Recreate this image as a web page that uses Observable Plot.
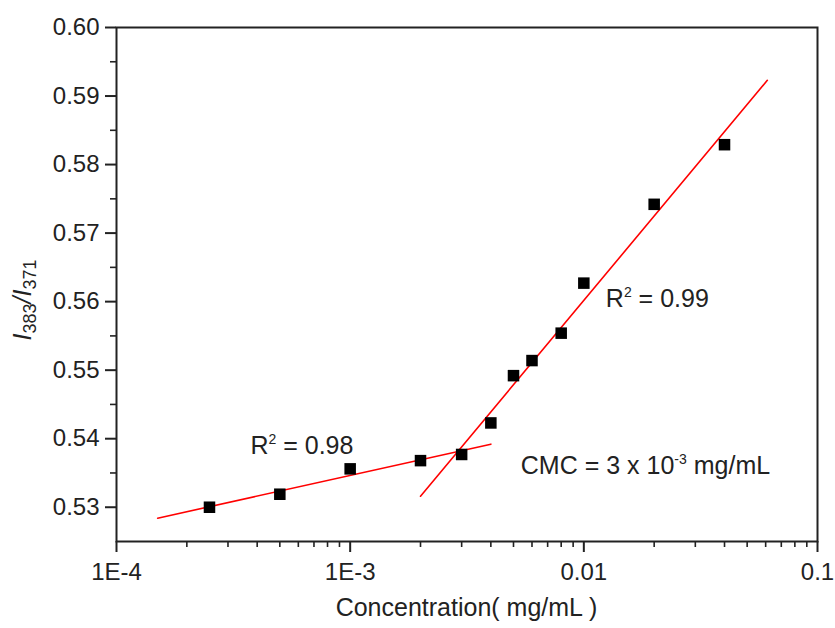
<!DOCTYPE html>
<html>
<head>
<meta charset="utf-8">
<script src="https://cdn.jsdelivr.net/npm/d3@7"></script>
<script src="https://cdn.jsdelivr.net/npm/@observablehq/plot@0.6"></script>
<style>
  body { margin: 0; background: #fff; }
  #chart svg { display: block; }
</style>
</head>
<body>
<div id="chart"></div>
<script>
// Pyrene fluorescence ratio I383/I371 versus surfactant concentration
const concentration = [2.5e-4, 5e-4, 1e-3, 2e-3, 3e-3, 4e-3, 5e-3, 6e-3, 8e-3, 0.01, 0.02, 0.04];
const ratio = [0.5300, 0.5319, 0.5356, 0.5368, 0.5377, 0.5423, 0.5492, 0.5514, 0.5554, 0.5627, 0.5742, 0.5829];

// Linear fits (in log concentration) below and above the CMC
const fitLowX = [1.5e-4, 4e-3];
const fitLowY = [0.5284, 0.5392];
const fitHighX = [2e-3, 0.061];
const fitHighY = [0.5316, 0.5923];

// Axis ticks
const xTicks = [1e-4, 1e-3, 1e-2, 1e-1];
const xTickLabels = ["1E-4", "1E-3", "0.01", "0.1"];
const xMinorTicks = [1e-4, 1e-3, 1e-2].flatMap(d => [2, 3, 4, 5, 6, 7, 8, 9].map(k => k * d));
const yTicks = [0.53, 0.54, 0.55, 0.56, 0.57, 0.58, 0.59, 0.60];
const yMinorTicks = [0.535, 0.545, 0.555, 0.565, 0.575, 0.585, 0.595];

const points = concentration.map((c, i) => ({c, r: ratio[i]}));
const lowFit = fitLowX.map((c, i) => ({c, r: fitLowY[i]}));
const highFit = fitHighX.map((c, i) => ({c, r: fitHighY[i]}));

const font = "'Liberation Sans', Arial, sans-serif";
const ink = "#222";

const chart = Plot.plot({
  width: 835,
  height: 628,
  marginLeft: 116,
  marginRight: 18,
  marginTop: 27,
  marginBottom: 87,
  style: {fontFamily: font, color: ink, background: "#fff"},
  x: {type: "log", domain: [1e-4, 0.1]},
  y: {domain: [0.525, 0.60]},
  marks: [
    Plot.axisX({ticks: xMinorTicks, tickSize: 6, tickFormat: () => "", label: null, stroke: ink, strokeWidth: 1.6}),
    Plot.axisX({
      ticks: xTicks, tickSize: 11, tickPadding: 10, label: null,
      tickFormat: d => xTickLabels[xTicks.indexOf(d)],
      fontSize: 24, fill: ink, stroke: ink, strokeWidth: 2
    }),
    Plot.axisY({ticks: yMinorTicks, tickSize: 6, tickFormat: () => "", label: null, stroke: ink, strokeWidth: 1.6}),
    Plot.axisY({
      ticks: yTicks, tickSize: 11, tickPadding: 6, label: null,
      tickFormat: d => d.toFixed(2),
      fontSize: 24, fill: ink, stroke: ink, strokeWidth: 2
    }),
    Plot.frame({stroke: ink, strokeWidth: 2}),
    Plot.line(lowFit, {x: "c", y: "r", stroke: "#ff0000", strokeWidth: 1.6}),
    Plot.line(highFit, {x: "c", y: "r", stroke: "#ff0000", strokeWidth: 1.6}),
    Plot.dot(points, {x: "c", y: "r", symbol: "square", r: 6.5, fill: "#000", stroke: "none"})
  ]
});

document.getElementById("chart").append(chart);

// Rich-text labels (italics, sub- and superscripts) placed with the plot's scales
const sx = chart.scale("x");
const sy = chart.scale("y");
const svg = d3.select(chart);

function richText(x, y, parts, opts = {}) {
  const t = svg.append("text")
    .attr("x", x).attr("y", y)
    .attr("font-family", font)
    .attr("font-size", opts.size || 24)
    .attr("fill", ink)
    .attr("text-anchor", opts.anchor || "start");
  if (opts.transform) t.attr("transform", opts.transform).attr("x", 0).attr("y", 0);
  let shift = 0;
  for (const p of parts) {
    const s = t.append("tspan").text(p.text);
    const target = p.dy || 0;
    if (target !== shift) { s.attr("dy", target - shift); shift = target; }
    if (p.size) s.attr("font-size", p.size);
    if (p.italic) s.attr("font-style", "italic");
  }
  return t;
}

// Fit quality and CMC annotations
richText(sx.apply(3.76e-4), sy.apply(0.5377), [
  {text: "R"}, {text: "2", size: 14, dy: -10}, {text: " = 0.98", dy: 0}
], {size: 25});
richText(sx.apply(0.01248), sy.apply(0.5591), [
  {text: "R"}, {text: "2", size: 14, dy: -10}, {text: " = 0.99", dy: 0}
], {size: 25});
richText(sx.apply(5.4e-3), sy.apply(0.5348), [
  {text: "CMC = 3 x 10"}, {text: "-3", size: 14, dy: -10}, {text: " mg/mL", dy: 0}
], {size: 25});

// Axis titles
richText((116 + 817) / 2, 616, [{text: "Concentration( mg/mL )"}], {size: 25, anchor: "middle"});
richText(0, 0, [
  {text: "I", italic: true},
  {text: "383", size: 18, dy: 5},
  {text: "/", italic: true, dy: 0},
  {text: "I", italic: true},
  {text: "371", size: 18, dy: 5}
], {size: 25, anchor: "middle", transform: "translate(31,300) rotate(-90)"});
</script>
</body>
</html>
